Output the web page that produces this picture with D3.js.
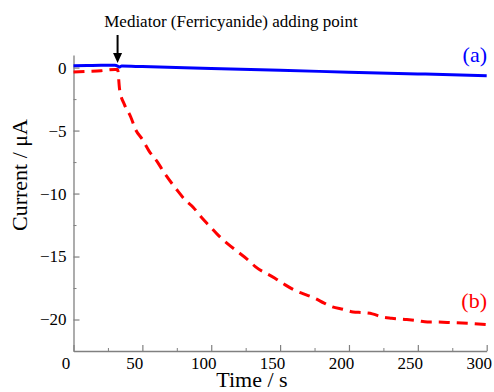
<!DOCTYPE html>
<html><head><meta charset="utf-8">
<script src="https://cdn.jsdelivr.net/npm/d3@7"></script>
<style>body{margin:0;background:#fff}svg{display:block}</style>
</head><body>
<script>
const timeA = [0, 10, 20, 30, 32, 33, 35, 50, 100, 150, 200, 250, 300];
const currentA = [0.15, 0.17, 0.18, 0.18, 0.12, 0.05, 0.12, 0.08, -0.07, -0.22, -0.36, -0.5, -0.65];
const timeB = [0, 10, 20, 30, 32, 33.5, 37, 41.5, 45, 50, 55, 61, 65, 75, 81, 87, 93, 99, 105, 112, 119, 126, 132, 146, 153, 161, 168, 175, 182, 188, 196, 203, 210, 217, 224, 231, 242, 250, 257, 264, 275, 286, 300];
const currentB = [-0.35, -0.3, -0.25, -0.15, -0.15, -1.75, -2.94, -3.9, -4.9, -5.7, -6.65, -7.5, -8.2, -9.7, -10.5, -11.1, -11.9, -12.6, -13.3, -14.0, -14.6, -15.2, -15.8, -16.7, -17.2, -17.7, -18.0, -18.3, -18.7, -19.0, -19.2, -19.4, -19.45, -19.55, -19.8, -19.9, -20.0, -20.1, -20.2, -20.2, -20.25, -20.3, -20.4];
const xTicks = [0, 50, 100, 150, 200, 250, 300];
const yTicks = [0, -5, -10, -15, -20];
const xMinor = [25, 75, 125, 175, 225, 275];
const yMinor = [-2.5, -7.5, -12.5, -17.5, -22.5];
const arrowTime = 32;
const annotation = "Mediator (Ferricyanide) adding point";
const labelA = "(a)", labelB = "(b)";
const xTitle = "Time / s", yTitle = "Current / μA";

const W = 494, H = 392;
const svg = d3.select("body").append("svg").attr("width", W).attr("height", H);
const x = d3.scaleLinear().domain([0, 300]).range([73.5, 486.7]);
const y = d3.scaleLinear().domain([-22.5, 1]).range([351, 55]);
const font = "'Liberation Serif','Times New Roman',serif";
const axisCol = "#808080";

const fmt = d => d < 0 ? "\u2212" + Math.abs(d) : String(d);

// minor ticks
const gxm = svg.append("g").attr("transform", `translate(0,${y(-22.5)})`)
  .call(d3.axisBottom(x).tickValues(xMinor).tickSize(-3).tickFormat(""));
const gym = svg.append("g").attr("transform", `translate(${x(0)},0)`)
  .call(d3.axisLeft(y).tickValues(yMinor).tickSize(-3).tickFormat(""));
[gxm, gym].forEach(g => { g.select(".domain").remove(); g.selectAll("line").attr("stroke", axisCol); });

// major axes
const gx = svg.append("g").attr("transform", `translate(0,${y(-22.5)})`)
  .call(d3.axisBottom(x).tickValues(xTicks).tickSize(-6).tickSizeOuter(0).tickPadding(6).tickFormat(fmt));
const gy = svg.append("g").attr("transform", `translate(${x(0)},0)`)
  .call(d3.axisLeft(y).tickValues(yTicks).tickSize(-6).tickSizeOuter(0).tickPadding(7).tickFormat(fmt));
[gx, gy].forEach(g => {
  g.attr("font-family", font).attr("font-size", 17);
  g.select(".domain").attr("stroke", axisCol).attr("stroke-width", 1.3);
  g.selectAll(".tick line").attr("stroke", axisCol).attr("stroke-width", 1.2);
  g.selectAll("text").attr("font-family", font).attr("font-size", 17).attr("fill", "#000");
});
gx.selectAll("text").attr("dx", -8).attr("dy", null).attr("y", 18);
gy.selectAll("text").attr("dy", "0.32em");

// lines
const line = d3.line().x(d => x(d[0])).y(d => y(d[1])).curve(d3.curveMonotoneX);
svg.append("path").datum(timeB.map((t, i) => [t, currentB[i]]))
  .attr("d", line).attr("fill", "none").attr("stroke", "#ff0000")
  .attr("stroke-width", 3).attr("stroke-dasharray", "11,7");
svg.append("path").datum(timeA.map((t, i) => [t, currentA[i]]))
  .attr("d", line).attr("fill", "none").attr("stroke", "#0000ff")
  .attr("stroke-width", 3);

// arrow annotation
const ax = x(arrowTime);
svg.append("line").attr("x1", ax).attr("x2", ax).attr("y1", 35).attr("y2", 55)
  .attr("stroke", "#000").attr("stroke-width", 2);
svg.append("path").attr("d", `M${ax - 4.5},53 L${ax + 4.5},53 L${ax},63 Z`).attr("fill", "#000");
svg.append("text").attr("x", 231).attr("y", 27).attr("text-anchor", "middle")
  .attr("font-family", font).attr("font-size", 17).text(annotation);

// series labels
svg.append("text").attr("x", 487).attr("y", 62).attr("text-anchor", "end")
  .attr("font-family", font).attr("font-size", 22).attr("fill", "#0000ff").text(labelA);
svg.append("text").attr("x", 487).attr("y", 308).attr("text-anchor", "end")
  .attr("font-family", font).attr("font-size", 22).attr("fill", "#ff0000").text(labelB);

// axis titles
svg.append("text").attr("x", 252).attr("y", 387).attr("text-anchor", "middle")
  .attr("font-family", font).attr("font-size", 22).text(xTitle);
svg.append("text").attr("transform", "translate(27,175) rotate(-90)").attr("text-anchor", "middle")
  .attr("font-family", font).attr("font-size", 22).text(yTitle);
</script>
</body></html>
